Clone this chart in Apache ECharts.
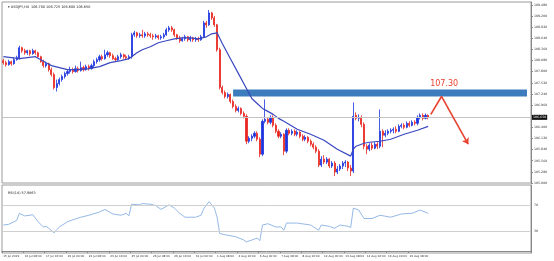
<!DOCTYPE html>
<html><head><meta charset="utf-8">
<script src="https://cdn.jsdelivr.net/npm/echarts@6/dist/echarts.min.js"></script>
<style>html,body{margin:0;padding:0;background:#fff}#c{width:554px;height:261px}</style>
</head><body><div id="c"></div>
<script>
const symbolTitle = '\u25BE USDJPY,H4  106.700 106.725 106.600 106.650';
const rsiTitle = 'RSI(14) 57.9863';
const timeTicks = ['15 Jul 2019','16 Jul 08:00','17 Jul 16:00','19 Jul 00:00','22 Jul 08:00','23 Jul 16:00','25 Jul 00:00','26 Jul 08:00','29 Jul 16:00','31 Jul 00:00','1 Aug 08:00','2 Aug 16:00','6 Aug 00:00','7 Aug 08:00','8 Aug 16:00','12 Aug 00:00','13 Aug 08:00','14 Aug 16:00','16 Aug 00:00','19 Aug 08:00'];
const open = [
108.075,108.025,107.975,108.05,108.0,108.1,108.125,108.4,108.325,108.275,
108.325,108.25,108.325,108.275,108.175,108.05,107.95,108.0,107.85,107.725,
107.4,107.5,107.6,107.675,107.75,107.8,107.85,107.8,107.875,107.825,
107.9,107.85,107.925,107.875,107.95,108.05,108.1,108.175,108.125,108.225,
108.275,108.2,108.125,108.1,108.175,108.225,108.175,108.15,108.175,108.725,
108.775,108.7,108.725,108.7,108.75,108.725,108.7,108.675,108.7,108.65,
108.675,108.725,108.85,108.9,108.85,108.725,108.65,108.575,108.625,108.675,
108.6,108.65,108.6,108.625,108.6,108.675,109.025,108.975,109.275,109.15,
108.975,108.35,107.4,107.275,107.175,107.225,107.05,106.925,106.825,106.875,
106.75,106.675,106.05,106.125,106.175,106.25,106.1,105.725,106.55,106.6,
106.525,106.65,106.45,106.3,106.175,106.225,105.8,106.325,106.25,106.3,
106.225,106.275,106.175,106.1,106.15,106.05,105.975,105.9,105.8,105.45,
105.6,105.525,105.6,105.425,105.5,105.275,105.35,105.425,105.5,105.525,
105.375,105.3,106.7,106.625,106.65,106.475,105.925,105.85,105.95,105.875,
105.975,105.925,106.3,106.2,106.25,106.3,106.325,106.35,106.3,106.425,
106.45,106.4,106.5,106.45,106.525,106.5,106.65,106.7,106.625,106.7];
const close = [
108.025,107.975,108.05,108.0,108.1,108.15,108.4,108.325,108.275,108.325,
108.25,108.325,108.275,108.175,108.05,107.95,108.0,107.85,107.725,107.4,
107.5,107.6,107.675,107.75,107.8,107.85,107.8,107.875,107.825,107.9,
107.85,107.925,107.875,107.95,108.05,108.1,108.175,108.125,108.225,108.275,
108.2,108.125,108.1,108.175,108.225,108.175,108.15,108.175,108.725,108.775,
108.7,108.725,108.7,108.75,108.725,108.7,108.675,108.7,108.65,108.675,
108.725,108.85,108.9,108.85,108.725,108.65,108.575,108.625,108.675,108.6,
108.65,108.6,108.625,108.6,108.675,109.025,108.975,109.275,109.15,108.975,
108.35,107.4,107.275,107.175,107.225,107.05,106.925,106.825,106.875,106.75,
106.675,106.05,106.125,106.175,106.25,106.1,105.725,106.55,106.6,106.525,
106.65,106.45,106.3,106.175,106.225,105.8,106.325,106.25,106.3,106.225,
106.275,106.175,106.1,106.15,106.05,105.975,105.9,105.8,105.45,105.6,
105.525,105.6,105.425,105.5,105.275,105.35,105.425,105.5,105.525,105.375,
105.3,106.675,106.625,106.65,106.475,105.925,105.85,105.95,105.875,105.975,
105.925,106.3,106.2,106.25,106.3,106.325,106.35,106.3,106.425,106.45,
106.4,106.5,106.45,106.525,106.5,106.65,106.7,106.625,106.7,106.65];
const high = [
108.125,108.075,108.1,108.075,108.15,108.2,108.45,108.425,108.375,108.35,
108.35,108.375,108.35,108.3,108.2,108.1,108.05,108.025,107.9,107.775,
107.6,107.65,107.725,107.8,107.85,107.925,107.9,107.95,107.925,108.05,
107.95,107.975,107.975,108.0,108.1,108.15,108.225,108.225,108.35,108.325,
108.3,108.25,108.175,108.225,108.275,108.25,108.225,108.225,108.775,108.825,
108.8,108.775,108.85,108.8,108.8,108.775,108.75,108.75,108.725,108.725,
108.775,108.9,108.95,108.95,108.875,108.75,108.7,108.675,108.725,108.7,
108.7,108.675,108.675,108.675,108.725,109.075,109.075,109.35,109.3,109.2,
109.0,108.4,107.45,107.325,107.275,107.25,107.1,106.975,106.925,106.9,
106.8,106.725,106.175,106.225,106.3,106.3,106.15,106.6,107.1,106.65,
106.7,106.7,106.5,106.35,106.275,106.25,106.375,106.375,106.35,106.35,
106.325,106.3,106.225,106.2,106.175,106.1,106.025,105.95,105.85,105.675,
105.7,105.65,105.625,105.55,105.55,105.425,105.475,105.55,105.575,105.55,
105.45,107.025,106.775,106.725,106.7,106.525,105.975,106.0,106.025,106.025,
106.025,106.85,106.35,106.325,106.35,106.375,106.4,106.425,106.475,106.5,
106.5,106.55,106.55,106.575,106.575,106.7,106.75,106.75,106.75,106.725];
const low = [
107.975,107.925,107.95,107.95,107.975,108.075,108.1,108.275,108.225,108.225,
108.2,108.225,108.225,108.15,108.025,107.9,107.9,107.8,107.675,107.35,
107.3,107.45,107.55,107.625,107.7,107.75,107.75,107.775,107.775,107.8,
107.8,107.825,107.825,107.85,107.9,108.0,108.05,108.075,108.1,108.175,
108.15,108.1,108.05,108.075,108.125,108.125,108.1,108.1,108.125,108.675,
108.65,108.65,108.65,108.65,108.675,108.65,108.6,108.625,108.6,108.6,
108.625,108.7,108.8,108.8,108.675,108.6,108.525,108.55,108.575,108.55,
108.55,108.55,108.55,108.55,108.575,108.65,108.9,108.95,109.1,108.925,
108.3,107.35,107.225,107.125,107.125,107.0,106.875,106.775,106.775,106.7,
106.625,105.975,106.0,106.05,106.125,106.05,105.65,105.675,106.5,106.475,
106.475,106.4,106.25,106.125,106.125,105.7,105.75,106.2,106.2,106.175,
106.175,106.125,106.05,106.05,106.0,105.925,105.85,105.75,105.4,105.4,
105.475,105.475,105.375,105.375,105.175,105.225,105.3,105.35,105.4,105.3,
105.175,105.25,106.575,106.55,106.4,105.85,105.725,105.8,105.825,105.85,
105.85,105.875,105.9,106.15,106.2,106.25,106.25,106.25,106.275,106.375,
106.35,106.375,106.4,106.425,106.45,106.45,106.6,106.575,106.6,106.6];
const maIdx = [0,3,6,9,12,14,16,18,21,24,28,32,36,40,44,47,48,50,52,55,58,61,64,67,70,73,76,78,80,82,85,88,91,93,95,97,99,101,103,105,110,115,120,125,130,131,132,135,137,141,145,150,155,159];
const maVal = [108.175,108.15,108.125,108.15,108.175,108.1,108.025,107.95,107.9,107.85,107.85,107.875,107.925,108.025,108.075,108.125,108.175,108.275,108.35,108.425,108.525,108.575,108.625,108.65,108.65,108.625,108.675,108.75,108.775,108.5,108.125,107.75,107.375,107.125,107.0,106.875,106.8,106.725,106.625,106.55,106.35,106.225,106.075,105.85,105.675,105.85,105.925,106.0,106.025,106.05,106.1,106.225,106.325,106.425];
const rsiIdx = [0,2,4,5,6,8,10,11,13,15,16,17,19,20,21,24,26,29,32,36,38,41,44,46,47,48,51,52,55,57,59,62,64,66,68,72,74,75,77,79,80,81,83,87,90,91,93,95,96,97,99,102,104,105,106,110,115,118,119,122,124,126,129,130,131,133,135,138,141,145,149,153,156,159];
const rsiVal = [40,41,45,47,58,54,55,56,45,37,38,35,28,33,37,45,48,52,55,60,64,57,55,58,54,72,71,73,72,70,64,71,66,58,52,52,55,65,76,66,52,27,25,22,17,14,17,20,16,40,42,37,37,32,43,43,40,32,40,38,35,40,38,36,66,63,50,50,55,52,57,58,63,58];
const rsiLevels = [100, 70, 30, 0];
const zoneTop = 107.35, zoneBottom = 107.175, zoneFrom = 86, zoneTo = 196;
const arrowIdx = [160, 164, 174];
const arrowVal = [106.725, 107.175, 105.975];
const targetText = '107.30';
const targetAt = [165, 107.5];

const slots = 198;
const cats = Array.from({length: slots}, (_, i) => String(i));
const tickOn = i => i % 8 === 0 && i / 8 < timeTicks.length;
const UP = '#1c33de', DOWN = '#e8261f';
const lastClose = close[close.length - 1];

const chart = echarts.init(document.getElementById('c'), null, {renderer: 'canvas'});
chart.setOption({
  animation: false,
  backgroundColor: '#fff',
  title: [
    {text: symbolTitle, left: 3, top: 1, textStyle: {fontSize: 3.4, fontWeight: 'normal', color: '#222', fontFamily: 'DejaVu Sans'}},
    {text: rsiTitle, left: 3, top: 187, textStyle: {fontSize: 3.4, fontWeight: 'normal', color: '#222', fontFamily: 'DejaVu Sans'}}
  ],
  grid: [
    {left: 2, right: 23, top: 2, height: 181, show: true, borderColor: '#9a9a9a', borderWidth: 1},
    {left: 2, right: 23, top: 185, height: 68, show: true, borderColor: '#9a9a9a', borderWidth: 1}
  ],
  xAxis: [
    {type: 'category', gridIndex: 0, data: cats, boundaryGap: true,
     axisLine: {show: false}, axisTick: {show: false}, axisLabel: {show: false}, splitLine: {show: false}},
    {type: 'category', gridIndex: 1, data: cats, boundaryGap: true,
     axisLine: {show: true, lineStyle: {color: '#888'}},
     axisTick: {show: true, interval: tickOn, length: 2, lineStyle: {color: '#888'}},
     axisLabel: {interval: tickOn, formatter: (v, i) => timeTicks[i / 8] || '', align: 'left',
       fontSize: 2.8, color: '#333', margin: 2, fontFamily: 'DejaVu Sans'},
     splitLine: {show: false}}
  ],
  yAxis: [
    {type: 'value', gridIndex: 0, position: 'right', min: 105, max: 109.55, interval: 0.28, scale: true,
     axisLine: {show: true, lineStyle: {color: '#888'}},
     axisTick: {show: true, length: 2, lineStyle: {color: '#888'}},
     axisLabel: {fontSize: 3.2, color: '#333', margin: 3, showMaxLabel: false, formatter: v => v.toFixed(3), fontFamily: 'DejaVu Sans'},
     splitLine: {show: false}},
    {type: 'value', gridIndex: 1, position: 'right', min: -3, max: 101.5,
     axisLine: {show: true, lineStyle: {color: '#888'}}, axisTick: {show: false}, axisLabel: {show: false}, splitLine: {show: false}}
  ],
  series: [
    {type: 'candlestick', xAxisIndex: 0, yAxisIndex: 0, barWidth: 1.6,
     data: open.map((o, i) => [o, close[i], low[i], high[i]]),
     itemStyle: {color: UP, color0: DOWN, borderColor: UP, borderColor0: DOWN, borderWidth: 0.8},
     markArea: {silent: true, itemStyle: {color: '#3c7cbd', opacity: 1},
       data: [[{xAxis: zoneFrom, yAxis: zoneTop}, {xAxis: zoneTo, yAxis: zoneBottom}]]},
     markLine: {silent: true, symbol: ['none', 'none'],
       lineStyle: {color: '#c4c4c4', width: 1, type: 'solid'},
       label: {show: true, position: 'end', formatter: () => lastClose.toFixed(3), backgroundColor: '#111',
         color: '#fff', fontSize: 3.2, padding: [1, 1], distance: 1, fontFamily: 'DejaVu Sans'},
       data: [{yAxis: lastClose}]}
    },
    {type: 'line', xAxisIndex: 0, yAxisIndex: 0, showSymbol: false, symbol: 'none',
     data: maIdx.map((k, i) => [k, maVal[i]]),
     lineStyle: {color: '#3a48c0', width: 1.2}, z: 3,
     markLine: {silent: true, symbol: ['none', 'none'], symbolSize: 6,
       lineStyle: {color: '#e8412f', width: 1.6, type: 'solid'}, label: {show: false},
       data: [
         [{coord: [arrowIdx[0], arrowVal[0]], symbol: 'none'}, {coord: [arrowIdx[1], arrowVal[1]], symbol: 'none'}],
         [{coord: [arrowIdx[1], arrowVal[1]], symbol: 'none'}, {coord: [arrowIdx[2], arrowVal[2]], symbol: 'arrow'}]
       ]},
     markPoint: {silent: true, symbol: 'circle', symbolSize: 1, itemStyle: {color: 'rgba(0,0,0,0)'},
       label: {show: true, position: 'inside', formatter: targetText, color: '#e8412f', fontSize: 8, fontFamily: 'DejaVu Sans'},
       data: [{coord: targetAt}]}
    },
    {type: 'line', xAxisIndex: 1, yAxisIndex: 1, showSymbol: false, symbol: 'none',
     data: rsiIdx.map((k, i) => [k, rsiVal[i]]),
     lineStyle: {color: '#95b9e6', width: 1},
     markLine: {silent: true, symbol: ['none', 'none'],
       label: {show: true, position: 'end', formatter: p => String(p.value), fontSize: 3.2, color: '#333', distance: 3, fontFamily: 'DejaVu Sans'},
       data: rsiLevels.map(v => ({yAxis: v, lineStyle: {color: '#cfcfcf', width: 1, type: 'solid', opacity: (v === 100 || v === 0) ? 0 : 1}}))}
    }
  ]
});
</script></body></html>
